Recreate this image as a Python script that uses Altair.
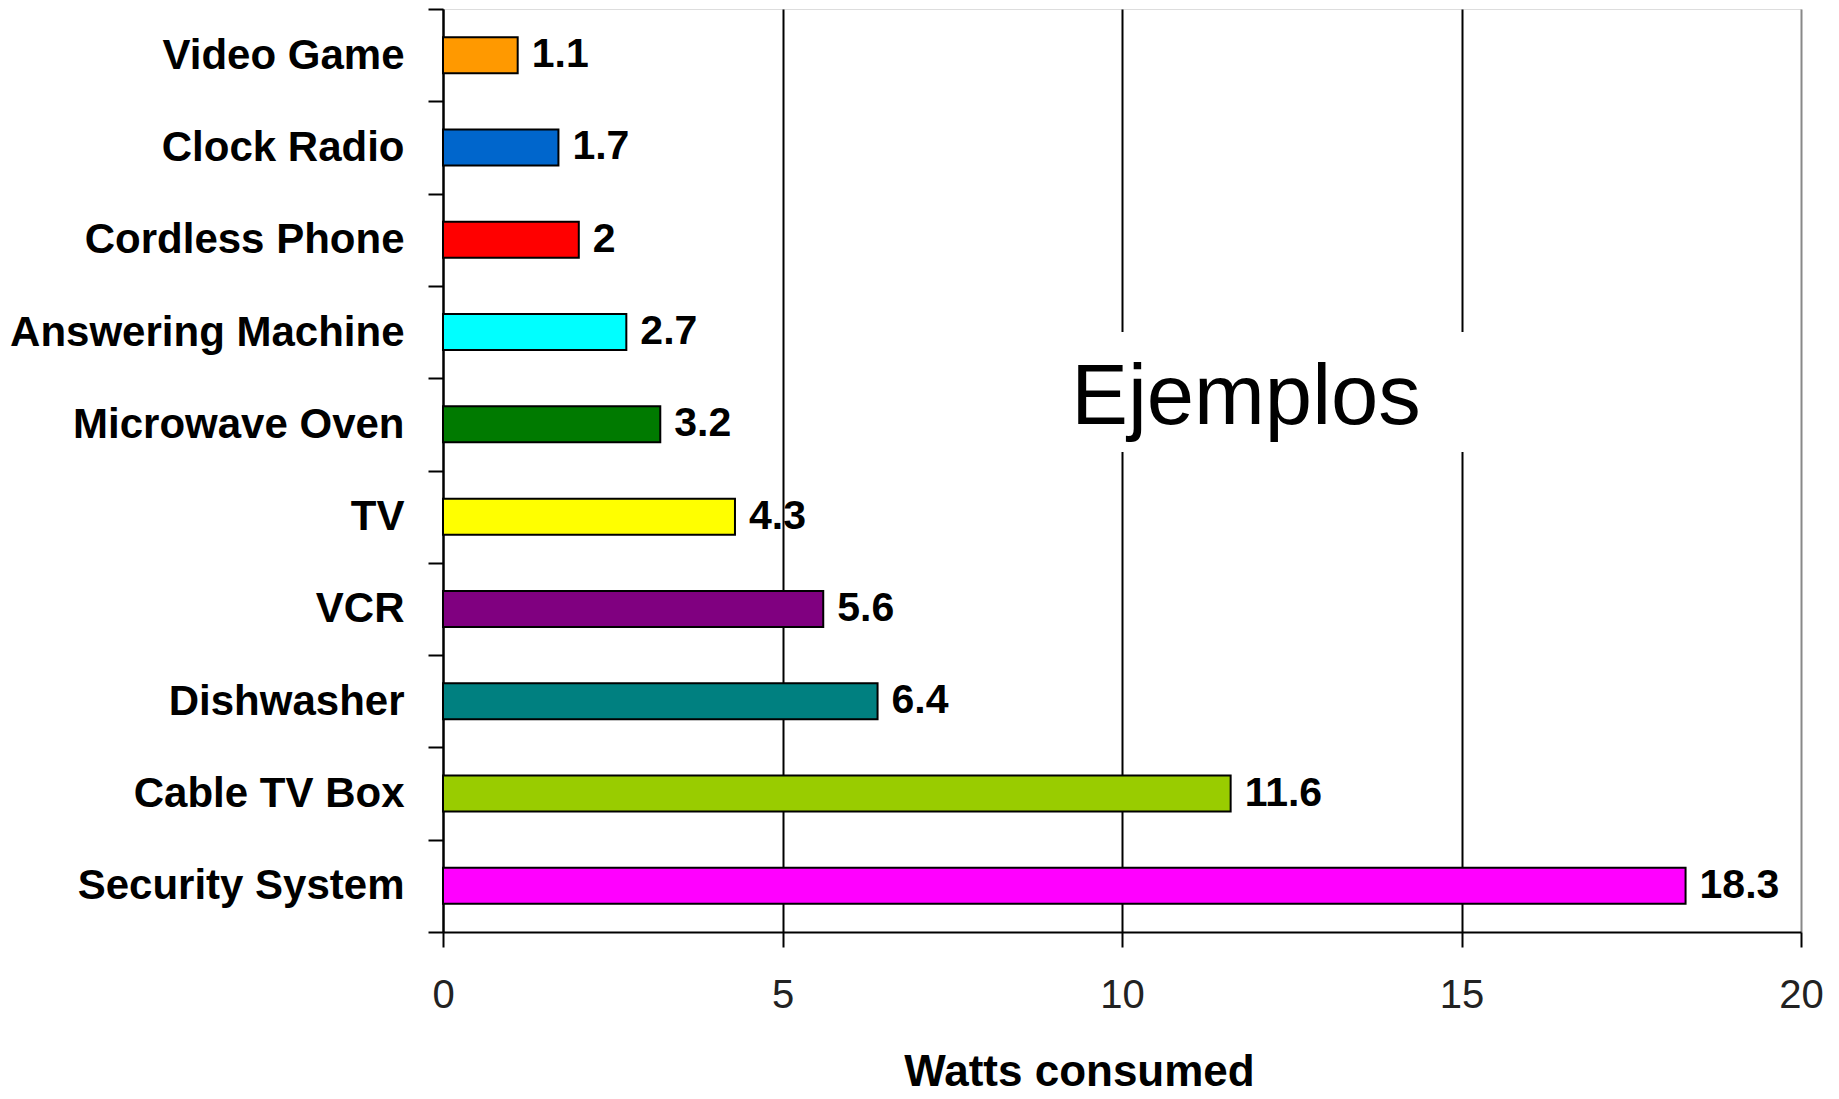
import altair as alt
import pandas as pd

categories = ["Video Game", "Clock Radio", "Cordless Phone", "Answering Machine",
              "Microwave Oven", "TV", "VCR", "Dishwasher", "Cable TV Box", "Security System"]
watts = [1.1, 1.7, 2, 2.7, 3.2, 4.3, 5.6, 6.4, 11.6, 18.3]
colors = ["#FF9900", "#0066CC", "#FF0000", "#00FFFF", "#007A00",
          "#FFFF00", "#800080", "#008080", "#99CC00", "#FF00FF"]
x_ticks = [0, 5, 10, 15, 20]
x_title = "Watts consumed"
annotation = "Ejemplos"

df = pd.DataFrame({
    "category": categories,
    "watts": watts,
    "label": [f"{v:g}" for v in watts],
})

y_enc = alt.Y("category:N", sort=categories, title=None,
              scale=alt.Scale(paddingInner=0, paddingOuter=0),
              axis=alt.Axis(tickBand="extent", labelFont="Liberation Sans", labelFontSize=42,
                            labelFontWeight="bold", labelColor="black", labelPadding=24,
                            tickSize=15, tickColor="black", tickWidth=2,
                            domainColor="black", domainWidth=2, labelLimit=500))
x_enc = alt.X("watts:Q", title=x_title,
              scale=alt.Scale(domain=[0, 20], nice=False),
              axis=alt.Axis(values=x_ticks, grid=True, format="d", labelFlush=False,
                            gridColor={"condition": {"test": "datum.value == 20", "value": "#888888"}, "value": "black"},
                            gridWidth=2, domainColor="black", domainWidth=2,
                            tickColor="black", tickWidth=2, tickSize=15,
                            labelFont="Liberation Sans Narrow, Liberation Sans", labelFontSize=40,
                            labelColor="#222222", labelPadding=28,
                            titleFont="Liberation Sans", titleFontSize=44, titleFontWeight="bold",
                            titleColor="black", titleX=636, titleY=153, titleAlign="center",
                            titleBaseline="alphabetic"))

bars = alt.Chart(df).mark_bar(height={"band": 0.39}, stroke="black", strokeWidth=2).encode(
    y=y_enc, x=x_enc,
    color=alt.Color("category:N", scale=alt.Scale(domain=categories, range=colors), legend=None),
)

labels = alt.Chart(df).mark_text(align="left", baseline="middle", dx=14,
                                 font="Liberation Sans", fontSize=41, fontWeight="bold",
                                 color="black").encode(
    y=alt.Y("category:N", sort=categories),
    x=alt.X("watts:Q"),
    text="label:N",
)

box = alt.Chart(pd.DataFrame({"t": [annotation]})).mark_rect(color="white").encode(
    x=alt.value(622), x2=alt.value(1032), y=alt.value(323), y2=alt.value(443))

ann = alt.Chart(pd.DataFrame({"t": [annotation]})).mark_text(
    align="center", baseline="alphabetic", font="Liberation Sans", fontSize=85, color="black"
).encode(x=alt.value(803), y=alt.value(415), text="t:N")

chart = alt.layer(bars, labels, box, ann).properties(
    width=1358, height=923,
    padding={"left": 435, "top": 1, "right": 30, "bottom": 166},
    autosize=alt.AutoSizeParams(type="none"),
).configure_view(stroke="#888888", strokeWidth=2).configure(background="white")

chart.save("out.html", embed_options={"renderer": "svg", "actions": False})
